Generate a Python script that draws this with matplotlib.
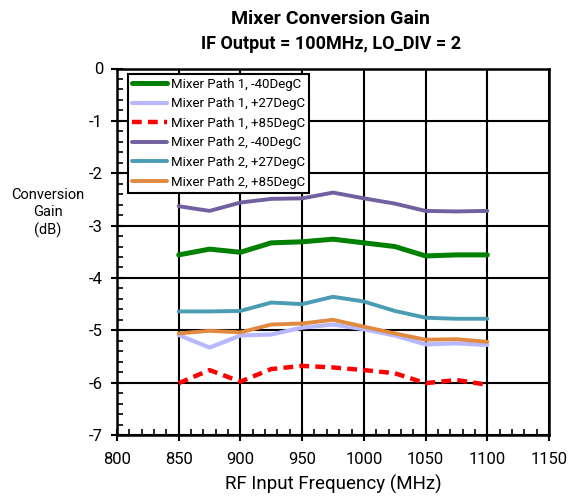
import matplotlib
matplotlib.use("Agg")
import matplotlib.pyplot as plt
from matplotlib.ticker import MultipleLocator

freq = [850, 875, 900, 925, 950, 975, 1000, 1025, 1050, 1075, 1100]
p1_m40 = [-3.56, -3.45, -3.51, -3.33, -3.31, -3.26, -3.33, -3.40, -3.58, -3.56, -3.56]
p1_p27 = [-5.09, -5.33, -5.10, -5.08, -4.95, -4.89, -4.98, -5.10, -5.27, -5.25, -5.28]
p1_p85 = [-6.01, -5.76, -5.98, -5.74, -5.68, -5.71, -5.76, -5.82, -6.01, -5.95, -6.04]
p2_m40 = [-2.63, -2.72, -2.56, -2.49, -2.48, -2.37, -2.48, -2.58, -2.72, -2.73, -2.72]
p2_p27 = [-4.64, -4.64, -4.63, -4.47, -4.50, -4.36, -4.45, -4.63, -4.76, -4.78, -4.78]
p2_p85 = [-5.06, -5.01, -5.04, -4.89, -4.87, -4.80, -4.93, -5.06, -5.18, -5.17, -5.22]

labels = ["Mixer Path 1, -40DegC", "Mixer Path 1, +27DegC", "Mixer Path 1, +85DegC",
          "Mixer Path 2, -40DegC", "Mixer Path 2, +27DegC", "Mixer Path 2, +85DegC"]

plt.rcParams['font.family'] = ['Roboto', 'DejaVu Sans']
plt.rcParams['axes.unicode_minus'] = False

fig = plt.figure(figsize=(5.72, 4.99), dpi=100)
ax = fig.add_axes([117/572, 1-435/499, (549-117)/572, (435-68.5)/499])

series = [
    (p1_m40, dict(color='#008000', lw=3.6, ls='-')),
    (p1_p27, dict(color='#b8b8ff', lw=3.0, ls='-')),
    (p1_p85, dict(color='#ff0000', lw=3.2, ls=(0, (2.2, 1.4)))),
    (p2_m40, dict(color='#7060a0', lw=2.8, ls='-')),
    (p2_p27, dict(color='#4a9cb4', lw=2.8, ls='-')),
    (p2_p85, dict(color='#e08a40', lw=2.8, ls='-')),
]
for (vals, st), lab in zip(series, labels):
    ax.plot(freq, vals, label=lab, solid_capstyle='round', **st)

ax.set_xlim(800, 1150)
ax.set_ylim(-7, 0)
ax.xaxis.set_major_locator(MultipleLocator(50))
ax.xaxis.set_minor_locator(MultipleLocator(10))
ax.yaxis.set_major_locator(MultipleLocator(1))
ax.yaxis.set_minor_locator(MultipleLocator(0.2))
ax.grid(True, which='major', color='black', lw=1.5)
ax.set_axisbelow(True)
for s in ax.spines.values():
    s.set_linewidth(1.8)
ax.tick_params(which='major', direction='inout', length=8, width=1.5, labelsize=12, pad=6)
ax.tick_params(which='minor', direction='in', length=4, width=1.2)
ax.tick_params(axis='x', which='major', pad=8)

fig.text(0.578, 0.962, "Mixer Conversion Gain", ha='center', va='center', fontsize=14, fontweight='bold')
fig.text(0.578, 0.912, "IF Output = 100MHz, LO_DIV = 2", ha='center', va='center', fontsize=13, fontweight='bold')
fig.text(48/572, 1-213/499, "Conversion\nGain\n(dB)", ha='center', va='center', fontsize=10.5, linespacing=1.25)
ax.set_xlabel("RF Input Frequency (MHz)", fontsize=13.5, labelpad=6)

leg = ax.legend(loc='upper left', bbox_to_anchor=(0.02, 0.993), fontsize=9.5, frameon=True,
                fancybox=False, edgecolor='black', framealpha=1, handlelength=2.6,
                handletextpad=0.3, borderpad=0.3, labelspacing=0.5, borderaxespad=0.2)
leg.get_frame().set_linewidth(1.5)

fig.savefig("out.png", dpi=100)
